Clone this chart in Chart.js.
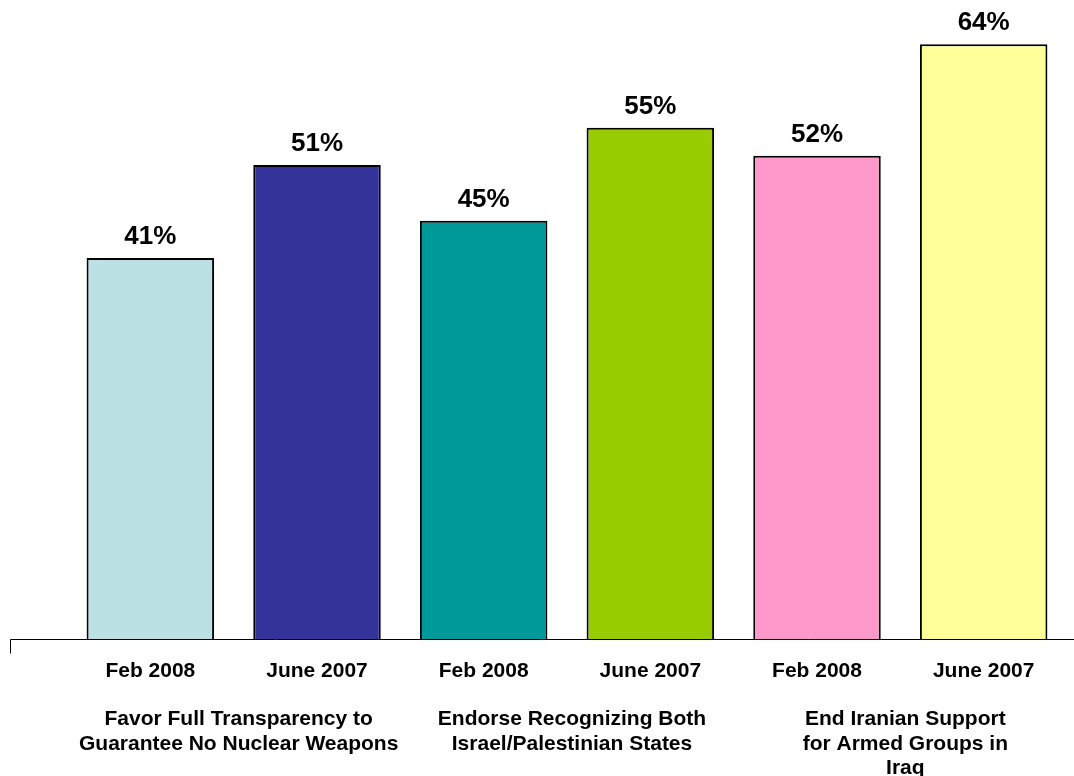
<!DOCTYPE html>
<html>
<head>
<meta charset="utf-8">
<script src="https://cdn.jsdelivr.net/npm/chart.js@4/dist/chart.umd.min.js"></script>
<style>
  html, body { margin: 0; padding: 0; background: #fff; }
  #wrap { width: 1074px; height: 776px; }
</style>
</head>
<body>
<div id="wrap"><canvas id="pollChart"></canvas></div>
<script>
// data
var categories = ['Feb 2008', 'June 2007', 'Feb 2008', 'June 2007', 'Feb 2008', 'June 2007'];
var groupLabels = [
    ['Favor Full Transparency to', 'Guarantee No Nuclear Weapons'],
    ['Endorse Recognizing Both', 'Israel/Palestinian States'],
    ['End Iranian Support', 'for Armed Groups in', 'Iraq']
];
var values = [41, 51, 45, 55, 52, 64];
var barColors = ['#BCE1E4', '#333399', '#009999', '#99CC00', '#FF99CC', '#FFFF99'];

var FONT = "Arial, 'Liberation Sans', sans-serif";

// axis line runs wider than the bars, with a little tick at the left end
var axisLine = {
    id: 'axisLine',
    afterDraw: function (chart) {
        var ctx = chart.ctx;
        var y = Math.round(chart.chartArea.bottom) + 0.5;
        ctx.save();
        ctx.strokeStyle = '#000';
        ctx.lineWidth = 1;
        ctx.beginPath();
        ctx.moveTo(10.5, y + 14);
        ctx.lineTo(10.5, y);
        ctx.lineTo(chart.width, y);
        ctx.stroke();
        ctx.restore();
    }
};

// percent labels above each bar
var valueLabels = {
    id: 'valueLabels',
    afterDatasetsDraw: function (chart) {
        var ctx = chart.ctx;
        var meta = chart.getDatasetMeta(0);
        ctx.save();
        ctx.font = 'bold 26px ' + FONT;
        ctx.fillStyle = '#000';
        ctx.textAlign = 'center';
        ctx.textBaseline = 'bottom';
        meta.data.forEach(function (bar, i) {
            ctx.fillText(values[i] + '%', bar.x, bar.y - 8);
        });
        ctx.restore();
    }
};

new Chart(document.getElementById('pollChart'), {
    type: 'bar',
    data: {
        labels: categories,
        datasets: [{
            data: values,
            backgroundColor: barColors,
            borderColor: '#000',
            borderWidth: 2,
            barPercentage: 0.765,
            categoryPercentage: 1
        }]
    },
    options: {
        responsive: true,
        maintainAspectRatio: false,
        animation: false,
        layout: { padding: { left: 67, right: 7, top: 7, bottom: 0 } },
        plugins: {
            legend: { display: false },
            tooltip: { enabled: false }
        },
        scales: {
            y: { display: false, min: 0, max: 68 },
            x: {
                weight: 0,
                grid: { display: false },
                border: { display: false },
                ticks: {
                    color: '#000',
                    font: { family: FONT, size: 21, weight: 'bold' },
                    padding: 12,
                    autoSkip: false,
                    maxRotation: 0
                },
                afterFit: function (scale) { scale.height = 55; }
            },
            x2: {
                type: 'category',
                position: 'bottom',
                weight: 1,
                labels: groupLabels,
                offset: true,
                grid: { display: false },
                border: { display: false },
                ticks: {
                    color: '#000',
                    font: { family: FONT, size: 21, weight: 'bold', lineHeight: 1.17 },
                    padding: 5,
                    labelOffset: 5,
                    autoSkip: false,
                    maxRotation: 0
                },
                afterFit: function (scale) { scale.height = 82; }
            }
        }
    },
    plugins: [axisLine, valueLabels]
});
</script>
</body>
</html>
